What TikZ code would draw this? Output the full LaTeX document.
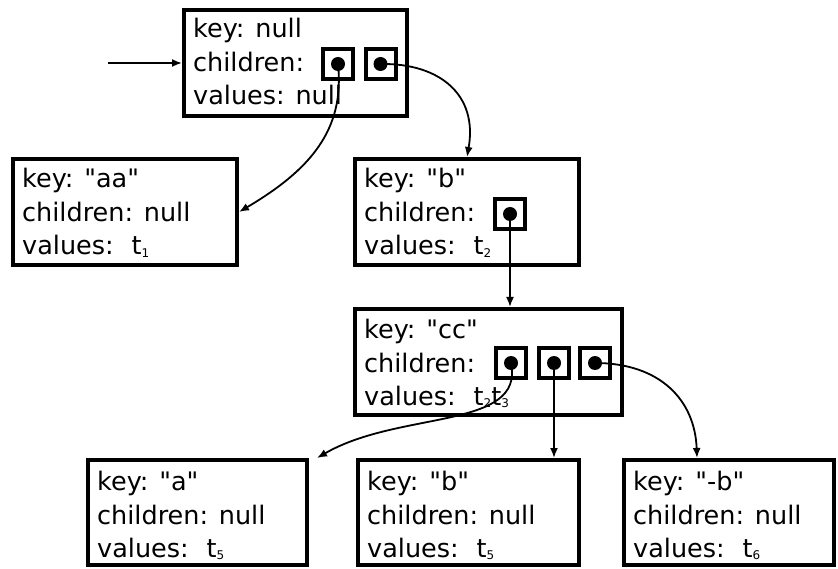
\documentclass[tikz,border=0pt]{standalone}
\usepackage{fontspec}
\setmainfont[Ligatures=TeXOff]{DejaVu Sans}
\usetikzlibrary{arrows.meta}
\newcommand\sub[1]{\raisebox{-2.5pt}{\fontsize{12}{12}\selectfont #1}}
\begin{document}
\begin{tikzpicture}[x=1pt,y=-1pt,
  record/.style={draw, line width=4pt, inner sep=0pt, rectangle},
  slot/.style={draw, line width=4pt, inner sep=0pt, minimum size=30pt},
  dotmark/.style={circle, fill=black, inner sep=0pt, minimum size=14pt},
  txt/.style={anchor=base west, inner sep=0pt, font=\fontsize{25.5}{30}\selectfont},
  link/.style={line width=1.8pt, -{Latex[length=10pt,width=8pt]}}]
\useasboundingbox (0,0) rectangle (838,569);

% records
\node[record, minimum width=223pt, minimum height=106pt] (root) at (295.5,63) {};
\node[record, minimum width=224pt, minimum height=106pt] (aa) at (125,212) {};
\node[record, minimum width=224pt, minimum height=106pt] (b) at (467,212) {};
\node[record, minimum width=267pt, minimum height=106pt] (cc) at (488.5,362) {};
\node[record, minimum width=219pt, minimum height=105pt] (a) at (197.5,512.5) {};
\node[record, minimum width=221pt, minimum height=105pt] (bb) at (468.5,512.5) {};
\node[record, minimum width=210pt, minimum height=105pt] (nb) at (729,512.5) {};

% record texts
\node[txt] (root1) at (193,38) {key: null};
\node[txt] (root2) at (193,72) {children:};
\node[txt] (root3) at (193,105) {values: null};

\node[txt] (aa1) at (22,188) {key: "aa"};
\node[txt] (aa2) at (22,222) {children: null};
\node[txt] (aa3) at (22,255) {values:\hspace{18pt}t\sub{1}};

\node[txt] (b1) at (364,188) {key: "b"};
\node[txt] (b2) at (364,222) {children:};
\node[txt] (b3) at (364,255) {values:\hspace{18pt}t\sub{2}};

\node[txt] (cc1) at (364,338) {key: "cc"};
\node[txt] (cc2) at (364,372) {children:};
\node[txt] (cc3) at (364,405) {values:\hspace{18pt}t\sub{2}t\sub{3}};

\node[txt] (a1) at (97,490) {key: "a"};
\node[txt] (a2) at (97,524) {children: null};
\node[txt] (a3) at (97,557) {values:\hspace{18pt}t\sub{5}};

\node[txt] (bb1) at (367,490) {key: "b"};
\node[txt] (bb2) at (367,524) {children: null};
\node[txt] (bb3) at (367,557) {values:\hspace{18pt}t\sub{5}};

\node[txt] (nb1) at (633,490) {key: "-b"};
\node[txt] (nb2) at (633,524) {children: null};
\node[txt] (nb3) at (633,557) {values:\hspace{18pt}t\sub{6}};

% child slots
\node[slot] (rs1) at (338,64) {};
\node[slot] (rs2) at (380.5,64) {};
\node[slot] (bs1) at (510,214) {};
\node[slot] (cs1) at (511,363) {};
\node[slot] (cs2) at (554,363) {};
\node[slot] (cs3) at (595,363) {};
\foreach \s in {rs1,rs2,bs1,cs1,cs2,cs3}
  \node[dotmark] (\s d) at (\s) {};

% entry pointer
\coordinate (entry) at (108,63);
\draw[link] (entry) -- (root.west);

% pointers
\draw[link] (rs1d.center) .. controls (345,130) and (310,170) .. (aa.east);
\draw[link] (rs2d.center) .. controls (440,63) and (478,95) .. (b.north);
\draw[link] (bs1d.center) -- (cc.north -| bs1d);
\draw[link] (cs1d.center) .. controls (525,430) and (400,410) .. ([xshift=8pt]a.north east);
\draw[link] (cs2d.center) -- (bb.north -| cs2d);
\draw[link] (cs3d.center) .. controls (660,363) and (695,400) .. (nb.north -| 697,0);
\end{tikzpicture}
\end{document}
